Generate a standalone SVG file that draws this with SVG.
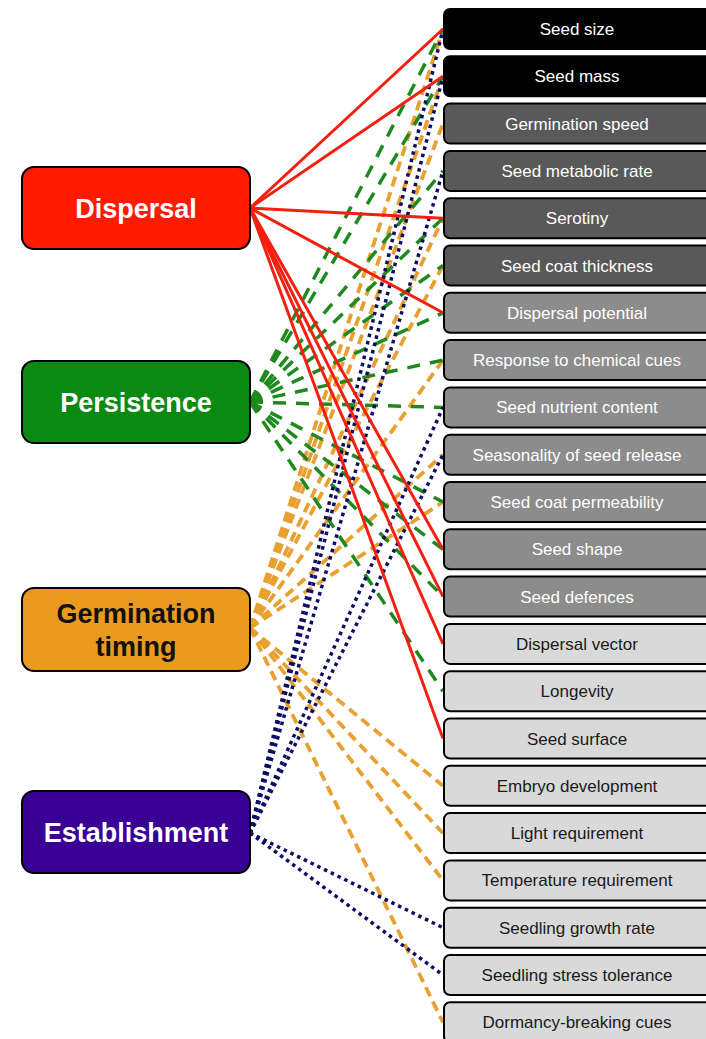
<svg xmlns="http://www.w3.org/2000/svg" width="706" height="1039" viewBox="0 0 706 1039">
<style>
.bg{fill:#fff}
.fn rect{stroke:#000;stroke-width:2}
.fn text{font-family:"Liberation Sans",Arial,sans-serif;font-weight:bold;font-size:27px;text-anchor:middle}
.tr rect{stroke:#000;stroke-width:2}
.tr text{font-family:"Liberation Sans",Arial,sans-serif;font-size:17px;text-anchor:middle}
.k0 rect{fill:#000}.k0 text{fill:#fff}
.k1 rect{fill:#595959}.k1 text{fill:#fff}
.k2 rect{fill:#8c8c8c}.k2 text{fill:#fff}
.k3 rect{fill:#d9d9d9}.k3 text{fill:#1a1a1a}
.red{stroke:#f51f10;stroke-width:3;fill:none}
.grn{stroke:#1e8a1e;stroke-width:3.5;stroke-dasharray:13 10;fill:none}
.org{stroke:#e8a030;stroke-width:3.8;stroke-dasharray:10 6;fill:none}
.nav{stroke:#0d0d66;stroke-width:3.5;stroke-dasharray:3.5 4;fill:none}
</style>
<rect class="bg" x="0" y="0" width="706" height="1039"/>
<g id="connectors">
<g class="org">
<line x1="250" y1="628" x2="443" y2="29"/>
<line x1="250" y1="628" x2="443" y2="76.3"/>
<line x1="250" y1="628" x2="443" y2="123.6"/>
<line x1="250" y1="628" x2="443" y2="218.2"/>
<line x1="250" y1="628" x2="443" y2="265.5"/>
<line x1="250" y1="628" x2="443" y2="360.1"/>
<line x1="250" y1="628" x2="443" y2="454.7"/>
<line x1="250" y1="628" x2="443" y2="502"/>
<line x1="250" y1="628" x2="443" y2="785.8"/>
<line x1="250" y1="628" x2="443" y2="833.1"/>
<line x1="250" y1="628" x2="443" y2="880.4"/>
<line x1="250" y1="628" x2="443" y2="1022.3"/>
</g>
<g class="grn">
<line x1="250" y1="402" x2="443" y2="29"/>
<line x1="250" y1="402" x2="443" y2="76.3"/>
<line x1="250" y1="402" x2="443" y2="170.9"/>
<line x1="250" y1="402" x2="443" y2="218.2"/>
<line x1="250" y1="402" x2="443" y2="265.5"/>
<line x1="250" y1="402" x2="443" y2="312.8"/>
<line x1="250" y1="402" x2="443" y2="360.1"/>
<line x1="250" y1="402" x2="443" y2="407.4"/>
<line x1="250" y1="402" x2="443" y2="502"/>
<line x1="250" y1="402" x2="443" y2="549.3"/>
<line x1="250" y1="402" x2="443" y2="596.6"/>
<line x1="250" y1="402" x2="443" y2="691.2"/>
</g>
<g class="nav">
<line x1="250" y1="833" x2="443" y2="29"/>
<line x1="250" y1="833" x2="443" y2="76.3"/>
<line x1="250" y1="833" x2="443" y2="170.9"/>
<line x1="250" y1="833" x2="443" y2="407.4"/>
<line x1="250" y1="833" x2="443" y2="454.7"/>
<line x1="250" y1="833" x2="443" y2="927.7"/>
<line x1="250" y1="833" x2="443" y2="975"/>
</g>
<g class="red">
<line x1="250" y1="208" x2="443" y2="29"/>
<line x1="250" y1="208" x2="443" y2="76.3"/>
<line x1="250" y1="208" x2="443" y2="218.2"/>
<line x1="250" y1="208" x2="443" y2="312.8"/>
<line x1="250" y1="208" x2="443" y2="549.3"/>
<line x1="250" y1="208" x2="443" y2="596.6"/>
<line x1="250" y1="208" x2="443" y2="643.9"/>
<line x1="250" y1="208" x2="443" y2="738.5"/>
</g>
</g>
<g id="dispersal" class="fn"><rect x="22" y="167" width="228" height="82" rx="12" fill="#ff1a00"/><text x="136" y="218" fill="#fff">Dispersal</text></g>
<g id="persistence" class="fn"><rect x="22" y="361" width="228" height="82" rx="12" fill="#0b8a12"/><text x="136" y="412" fill="#fff">Persistence</text></g>
<g id="germination-timing" class="fn"><rect x="22" y="588" width="228" height="83" rx="12" fill="#e99a1f"/><text x="136" y="623" fill="#111">Germination</text><text x="136" y="656" fill="#111">timing</text></g>
<g id="establishment" class="fn"><rect x="22" y="791" width="228" height="82" rx="12" fill="#3a0096"/><text x="136" y="842" fill="#fff">Establishment</text></g>
<g id="seed-size" class="tr k0"><rect x="444" y="9" width="268" height="40" rx="6"/><text x="577" y="35">Seed size</text></g>
<g id="seed-mass" class="tr k0"><rect x="444" y="56.3" width="268" height="40" rx="6"/><text x="577" y="82.3">Seed mass</text></g>
<g id="germination-speed" class="tr k1"><rect x="444" y="103.6" width="268" height="40" rx="6"/><text x="577" y="129.6">Germination speed</text></g>
<g id="seed-metabolic-rate" class="tr k1"><rect x="444" y="150.9" width="268" height="40" rx="6"/><text x="577" y="176.9">Seed metabolic rate</text></g>
<g id="serotiny" class="tr k1"><rect x="444" y="198.2" width="268" height="40" rx="6"/><text x="577" y="224.2">Serotiny</text></g>
<g id="seed-coat-thickness" class="tr k1"><rect x="444" y="245.5" width="268" height="40" rx="6"/><text x="577" y="271.5">Seed coat thickness</text></g>
<g id="dispersal-potential" class="tr k2"><rect x="444" y="292.8" width="268" height="40" rx="6"/><text x="577" y="318.8">Dispersal potential</text></g>
<g id="response-chemical" class="tr k2"><rect x="444" y="340.1" width="268" height="40" rx="6"/><text x="577" y="366.1">Response to chemical cues</text></g>
<g id="seed-nutrient" class="tr k2"><rect x="444" y="387.4" width="268" height="40" rx="6"/><text x="577" y="413.4">Seed nutrient content</text></g>
<g id="seasonality" class="tr k2"><rect x="444" y="434.7" width="268" height="40" rx="6"/><text x="577" y="460.7">Seasonality of seed release</text></g>
<g id="seed-coat-permeability" class="tr k2"><rect x="444" y="482" width="268" height="40" rx="6"/><text x="577" y="508">Seed coat permeability</text></g>
<g id="seed-shape" class="tr k2"><rect x="444" y="529.3" width="268" height="40" rx="6"/><text x="577" y="555.3">Seed shape</text></g>
<g id="seed-defences" class="tr k2"><rect x="444" y="576.6" width="268" height="40" rx="6"/><text x="577" y="602.6">Seed defences</text></g>
<g id="dispersal-vector" class="tr k3"><rect x="444" y="623.9" width="268" height="40" rx="6"/><text x="577" y="649.9">Dispersal vector</text></g>
<g id="longevity" class="tr k3"><rect x="444" y="671.2" width="268" height="40" rx="6"/><text x="577" y="697.2">Longevity</text></g>
<g id="seed-surface" class="tr k3"><rect x="444" y="718.5" width="268" height="40" rx="6"/><text x="577" y="744.5">Seed surface</text></g>
<g id="embryo-development" class="tr k3"><rect x="444" y="765.8" width="268" height="40" rx="6"/><text x="577" y="791.8">Embryo development</text></g>
<g id="light-requirement" class="tr k3"><rect x="444" y="813.1" width="268" height="40" rx="6"/><text x="577" y="839.1">Light requirement</text></g>
<g id="temperature-requirement" class="tr k3"><rect x="444" y="860.4" width="268" height="40" rx="6"/><text x="577" y="886.4">Temperature requirement</text></g>
<g id="seedling-growth-rate" class="tr k3"><rect x="444" y="907.7" width="268" height="40" rx="6"/><text x="577" y="933.7">Seedling growth rate</text></g>
<g id="seedling-stress-tolerance" class="tr k3"><rect x="444" y="955" width="268" height="40" rx="6"/><text x="577" y="981">Seedling stress tolerance</text></g>
<g id="dormancy-breaking-cues" class="tr k3"><rect x="444" y="1002.3" width="268" height="40" rx="6"/><text x="577" y="1028.3">Dormancy-breaking cues</text></g>
</svg>
